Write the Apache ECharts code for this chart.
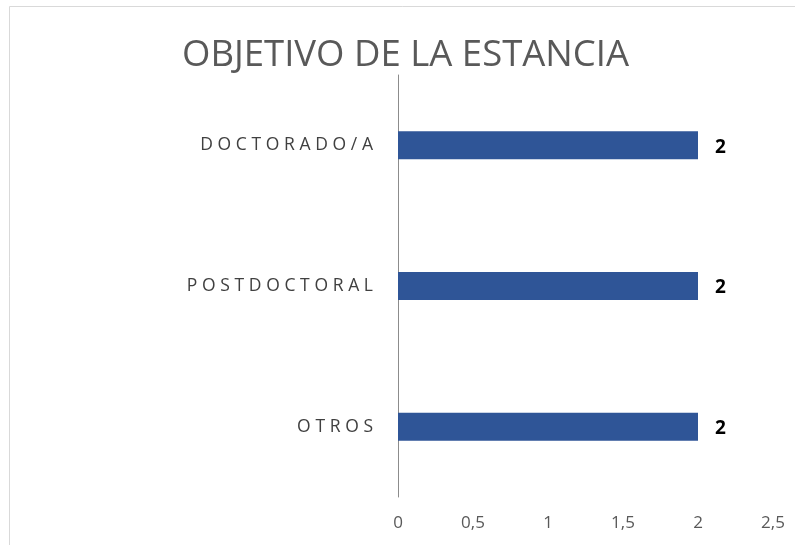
<!DOCTYPE html>
<html>
<head>
<meta charset="utf-8">
<script src="https://cdn.jsdelivr.net/npm/echarts@6/dist/echarts.min.js"></script>
<style>
  html, body { margin: 0; padding: 0; background: #fff; }
  #chart { width: 795px; height: 545px; }
</style>
</head>
<body>
<div id="chart"></div>
<script>
// datos
var categorias = ['OTROS', 'POSTDOCTORAL', 'DOCTORADO/A'];
var valores = [2, 2, 2];
var ticksX = ['0', '0,5', '1', '1,5', '2', '2,5'];

var myChart = echarts.init(document.getElementById('chart'));

var option = {
    backgroundColor: '#fff',
    title: {
        text: 'OBJETIVO DE LA ESTANCIA',
        left: 177,
        top: 32,
        textStyle: {
            fontFamily: 'Open Sans',
            fontSize: 36.5,
            fontWeight: 'normal',
            color: '#595959'
        }
    },
    graphic: [{
        type: 'rect',
        shape: { x: 9.5, y: 6.5, width: 800, height: 560 },
        style: { fill: 'none', stroke: '#d9d9d9', lineWidth: 1 },
        silent: true
    }],
    grid: {
        left: 398,
        right: 22,
        top: 75,
        bottom: 48
    },
    xAxis: {
        type: 'value',
        min: 0,
        max: 2.5,
        interval: 0.5,
        axisLine: { show: false },
        axisTick: { show: false },
        splitLine: { show: false },
        axisLabel: {
            margin: 18,
            fontFamily: 'Open Sans',
            fontSize: 17,
            color: '#595959',
            formatter: function (v) {
                return ticksX[Math.round(v / 0.5)];
            }
        }
    },
    yAxis: {
        type: 'category',
        data: categorias,
        axisLine: { show: true, lineStyle: { color: '#8c8c8c', width: 1 } },
        axisTick: { show: false },
        axisLabel: {
            margin: 25,
            fontFamily: 'Open Sans',
            fontSize: 17.5,
            color: '#404040',
            formatter: function (v) {
                return v.split('').join('\u2009\u200A');
            }
        }
    },
    series: [{
        type: 'bar',
        data: valores,
        barWidth: 28,
        itemStyle: { color: '#2F5597' },
        label: {
            show: true,
            position: 'right',
            distance: 16,
            offset: [1, 2],
            fontFamily: 'Open Sans',
            fontSize: 19,
            fontWeight: 'bold',
            color: '#000'
        }
    }]
};
myChart.setOption(option);
</script>
</body>
</html>
